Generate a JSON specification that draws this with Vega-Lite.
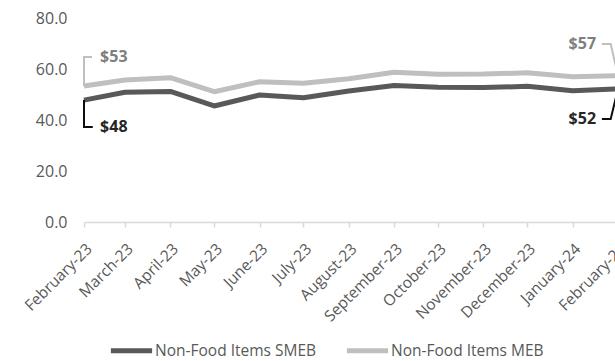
{
  "$schema": "https://vega.github.io/schema/vega-lite/v6.json",
  "autosize": {"type": "none"},
  "padding": {"left": 84, "top": 18, "right": 0, "bottom": 139},
  "width": 531,
  "height": 204,
  "background": "white",
  "config": {"view": {"stroke": null}, "font": "Open Sans"},
  "datasets": {
    "series": [
      {"date": "2023-02-01", "series": "Non-Food Items SMEB", "value": 47.8},
      {"date": "2023-03-01", "series": "Non-Food Items SMEB", "value": 50.9},
      {"date": "2023-04-01", "series": "Non-Food Items SMEB", "value": 51.2},
      {"date": "2023-05-01", "series": "Non-Food Items SMEB", "value": 45.5},
      {"date": "2023-06-01", "series": "Non-Food Items SMEB", "value": 49.8},
      {"date": "2023-07-01", "series": "Non-Food Items SMEB", "value": 48.7},
      {"date": "2023-08-01", "series": "Non-Food Items SMEB", "value": 51.4},
      {"date": "2023-09-01", "series": "Non-Food Items SMEB", "value": 53.5},
      {"date": "2023-10-01", "series": "Non-Food Items SMEB", "value": 52.8},
      {"date": "2023-11-01", "series": "Non-Food Items SMEB", "value": 52.7},
      {"date": "2023-12-01", "series": "Non-Food Items SMEB", "value": 53.2},
      {"date": "2024-01-01", "series": "Non-Food Items SMEB", "value": 51.5},
      {"date": "2024-02-01", "series": "Non-Food Items SMEB", "value": 52.2},
      {"date": "2023-02-01", "series": "Non-Food Items MEB", "value": 53.3},
      {"date": "2023-03-01", "series": "Non-Food Items MEB", "value": 55.7},
      {"date": "2023-04-01", "series": "Non-Food Items MEB", "value": 56.6},
      {"date": "2023-05-01", "series": "Non-Food Items MEB", "value": 51.1},
      {"date": "2023-06-01", "series": "Non-Food Items MEB", "value": 55.0},
      {"date": "2023-07-01", "series": "Non-Food Items MEB", "value": 54.4},
      {"date": "2023-08-01", "series": "Non-Food Items MEB", "value": 56.2},
      {"date": "2023-09-01", "series": "Non-Food Items MEB", "value": 58.7},
      {"date": "2023-10-01", "series": "Non-Food Items MEB", "value": 57.9},
      {"date": "2023-11-01", "series": "Non-Food Items MEB", "value": 58.0},
      {"date": "2023-12-01", "series": "Non-Food Items MEB", "value": 58.5},
      {"date": "2024-01-01", "series": "Non-Food Items MEB", "value": 57.0},
      {"date": "2024-02-01", "series": "Non-Food Items MEB", "value": 57.4}
    ],
    "leaders": [
      {"g": "l53", "kind": "MEB", "o": 0, "date": "2023-02-01", "value": 53.3},
      {"g": "l53", "kind": "MEB", "o": 1, "date": "2023-02-01", "value": 64.7},
      {"g": "l53", "kind": "MEB", "o": 2, "date": "2023-02-06T12:00:00", "value": 64.7},
      {"g": "l57", "kind": "MEB", "o": 0, "date": "2024-01-21", "value": 69.8},
      {"g": "l57", "kind": "MEB", "o": 1, "date": "2024-01-27", "value": 69.8},
      {"g": "l57", "kind": "MEB", "o": 2, "date": "2024-02-01", "value": 57.4},
      {"g": "l48", "kind": "SMEB", "o": 0, "date": "2023-02-01", "value": 47.8},
      {"g": "l48", "kind": "SMEB", "o": 1, "date": "2023-02-01", "value": 37.3},
      {"g": "l48", "kind": "SMEB", "o": 2, "date": "2023-02-07", "value": 37.3},
      {"g": "l52", "kind": "SMEB", "o": 0, "date": "2024-01-21", "value": 40.4},
      {"g": "l52", "kind": "SMEB", "o": 1, "date": "2024-01-27", "value": 40.4},
      {"g": "l52", "kind": "SMEB", "o": 2, "date": "2024-02-01", "value": 52.2}
    ],
    "labels": [
      {"label": "$53", "kind": "MEB", "side": "left", "date": "2023-02-12T00:00:00", "value": 64.7},
      {"label": "$48", "kind": "SMEB", "side": "left", "date": "2023-02-12T00:00:00", "value": 37.3},
      {"label": "$57", "kind": "MEB", "side": "right", "date": "2024-01-17", "value": 69.8},
      {"label": "$52", "kind": "SMEB", "side": "right", "date": "2024-01-17", "value": 40.4}
    ]
  },
  "encoding": {
    "x": {
      "field": "date",
      "type": "temporal",
      "scale": {
        "type": "utc",
        "domain": [{"year": 2023, "month": 2, "date": 1, "utc": true}, {"year": 2024, "month": 2, "date": 1, "utc": true}],
        "range": [0, 534],
        "nice": false
      },
      "axis": {
        "title": null,
        "labelExpr": "utcFormat(datum.value, '%B-%y')",
        "tickCount": {"interval": "month", "step": 1},
        "labelAngle": -45,
        "labelFont": "Open Sans",
        "labelFontSize": 15.5,
        "labelColor": "#595959",
        "labelPadding": 14,
        "labelOverlap": false,
        "labelFlush": false,
        "grid": false,
        "domainColor": "#d9d9d9",
        "domainWidth": 1.5,
        "tickColor": "#d9d9d9",
        "tickWidth": 1.5,
        "tickSize": 5
      }
    },
    "y": {
      "field": "value",
      "type": "quantitative",
      "scale": {"domain": [0, 80], "nice": false},
      "axis": {
        "title": null,
        "values": [0, 20, 40, 60, 80],
        "format": ".1f",
        "grid": false,
        "domain": false,
        "ticks": false,
        "labelFont": "Open Sans",
        "labelFontSize": 16,
        "labelColor": "#595959",
        "labelPadding": 17
      }
    }
  },
  "layer": [
    {
      "data": {"name": "series"},
      "mark": {"type": "line", "strokeWidth": 5, "strokeJoin": "round"},
      "encoding": {
        "color": {
          "field": "series",
          "type": "nominal",
          "scale": {"domain": ["Non-Food Items SMEB", "Non-Food Items MEB"], "range": ["#595959", "#bfbfbf"]},
          "legend": {
            "title": null,
            "orient": "none",
            "direction": "horizontal",
            "legendX": 24,
            "legendY": 309,
            "symbolType": "stroke",
            "symbolSize": 1700,
            "symbolStrokeWidth": 5,
            "labelFont": "Open Sans",
            "labelFontSize": 15.5,
            "labelColor": "#595959",
            "labelLimit": 400,
            "labelOffset": 0,
            "columnPadding": 19
          }
        }
      }
    },
    {
      "data": {"name": "series"},
      "transform": [{"filter": "datum.date == '2023-02-01' && datum.series == 'Non-Food Items SMEB'"}],
      "mark": {"type": "circle", "size": 90, "color": "#1a1a1a", "opacity": 1}
    },
    {
      "data": {"name": "series"},
      "transform": [{"filter": "datum.date == '2023-02-01' && datum.series == 'Non-Food Items MEB'"}],
      "mark": {"type": "circle", "size": 90, "color": "#c4c4c4", "opacity": 1}
    },
    {
      "data": {"name": "leaders"},
      "transform": [{"filter": "datum.kind == 'MEB'"}],
      "mark": {"type": "line", "color": "#bfbfbf", "strokeWidth": 2},
      "encoding": {"detail": {"field": "g"}, "order": {"field": "o", "type": "quantitative"}}
    },
    {
      "data": {"name": "leaders"},
      "transform": [{"filter": "datum.kind == 'SMEB'"}],
      "mark": {"type": "line", "color": "#0d0d0d", "strokeWidth": 2},
      "encoding": {"detail": {"field": "g"}, "order": {"field": "o", "type": "quantitative"}}
    },
    {
      "data": {"name": "labels"},
      "transform": [{"filter": "datum.kind == 'MEB' && datum.side == 'left'"}],
      "mark": {"type": "text", "align": "left", "baseline": "middle", "font": "Open Sans", "fontSize": 16, "fontWeight": "bold", "color": "#7f7f7f"},
      "encoding": {"text": {"field": "label"}}
    },
    {
      "data": {"name": "labels"},
      "transform": [{"filter": "datum.kind == 'MEB' && datum.side == 'right'"}],
      "mark": {"type": "text", "align": "right", "baseline": "middle", "font": "Open Sans", "fontSize": 16, "fontWeight": "bold", "color": "#7f7f7f"},
      "encoding": {"text": {"field": "label"}}
    },
    {
      "data": {"name": "labels"},
      "transform": [{"filter": "datum.kind == 'SMEB' && datum.side == 'left'"}],
      "mark": {"type": "text", "align": "left", "baseline": "middle", "font": "Open Sans", "fontSize": 16, "fontWeight": "bold", "color": "#262626"},
      "encoding": {"text": {"field": "label"}}
    },
    {
      "data": {"name": "labels"},
      "transform": [{"filter": "datum.kind == 'SMEB' && datum.side == 'right'"}],
      "mark": {"type": "text", "align": "right", "baseline": "middle", "font": "Open Sans", "fontSize": 16, "fontWeight": "bold", "color": "#262626"},
      "encoding": {"text": {"field": "label"}}
    }
  ]
}
